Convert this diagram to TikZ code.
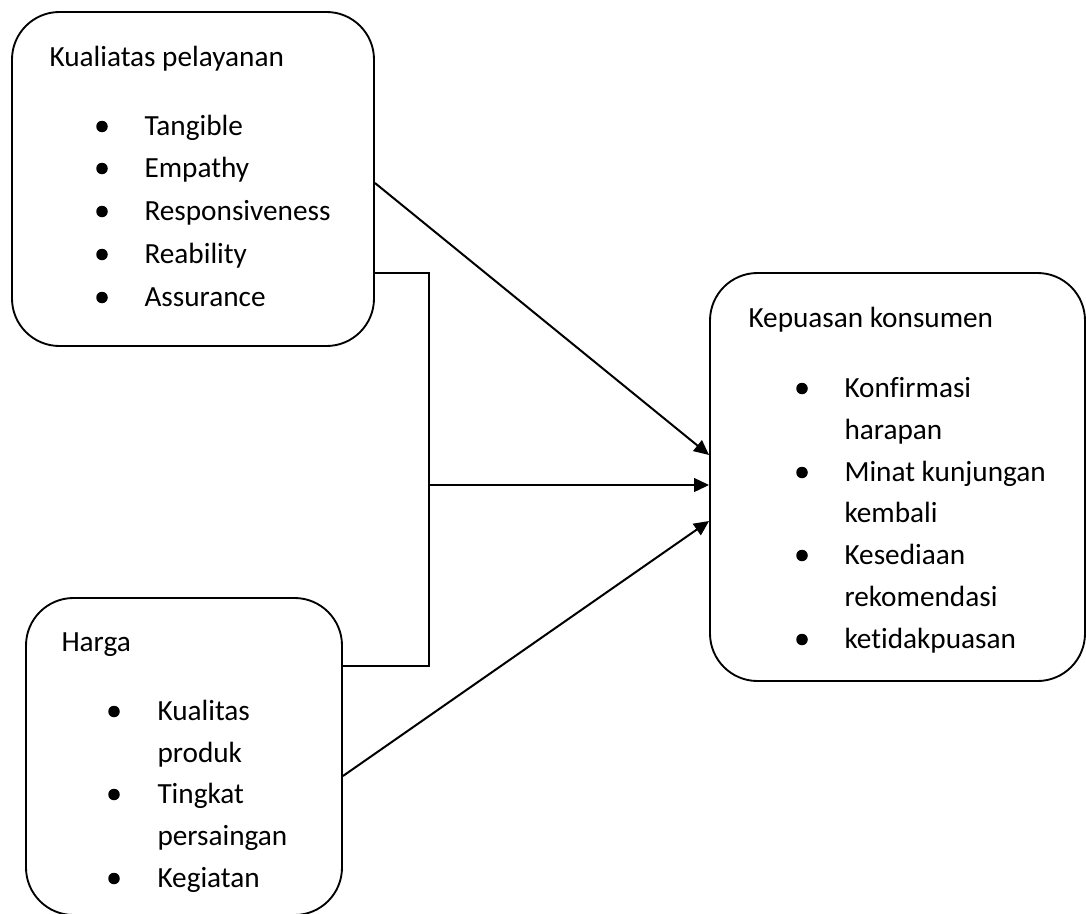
\documentclass[tikz,border=0pt]{standalone}
\usepackage{fontspec}
\setmainfont[Ligatures=NoCommon]{Carlito}
\usepackage{tikz}
\usetikzlibrary{positioning,arrows.meta,calc}

\begin{document}
\begin{tikzpicture}[
  x=0.4pt, y=-0.4pt,
  box/.style   = {draw, line width=0.75pt, rounded corners=19pt,
                  inner sep=0pt},
  title/.style = {anchor=base west, inner sep=0pt,
                  font=\fontsize{11.7}{14}\selectfont},
  item/.style  = {anchor=base west, inner sep=0pt,
                  font=\fontsize{11.7}{14}\selectfont},
  dot/.style   = {circle, fill=black, minimum size=4.6pt, inner sep=0pt},
  arr/.style   = {line width=0.8pt, -{Triangle[length=6pt,width=5.5pt]}},
  link/.style  = {line width=0.5pt}
]
\useasboundingbox (0,0) rectangle (1086,913);

\node[box, minimum width=144.8pt, minimum height=133.6pt] (kual) at (193,179) {};
\node[box, minimum width=126.4pt, minimum height=126.8pt] (harga) at (184,756.5) {};
\node[box, minimum width=150pt, minimum height=163.2pt] (puas) at (897.5,477) {};

\node[title] (tkual) at (49,66) {Kualiatas pelayanan};
\node[title] (tharga) at (61,651) {Harga};
\node[title] (tpuas) at (748,327) {Kepuasan konsumen};

\foreach \y/\txt in {135/Tangible, 177/Empathy, 220/Responsiveness,
    263/Reability, 306/Assurance}{
  \node[dot] at (102,\y-8.5) {};
  \node[item] at (144,\y) {\txt};
}

\foreach \y/\txt/\b in {720/Kualitas/1, 762/produk/0, 803/Tingkat/1,
    845/persaingan/0, 887/Kegiatan/1}{
  \ifnum\b=1 \node[dot] at (114,\y-8.5) {};\fi
  \node[item] at (157,\y) {\txt};
}

\foreach \y/\txt/\b in {397/Konfirmasi/1, 439/harapan/0,
    481/Minat kunjungan/1, 522/kembali/0, 564/Kesediaan/1,
    606/rekomendasi/0, 648/ketidakpuasan/1}{
  \ifnum\b=1 \node[dot] at (802,\y-8.5) {};\fi
  \node[item] at (844,\y) {\txt};
}

\coordinate (jn) at (429,485);

\draw[arr] ($(kual.east)+(0,4)$) -- ($(puas.west)+(0,-22)$);
\draw[link] ($(kual.east)+(0,94)$) -| (jn) |- ($(harga.east)+(0,-90.5)$);
\draw[arr] (jn) -- (jn -| puas.west);
\draw[arr] ($(harga.east)+(0,19.5)$) -- ($(puas.west)+(0,44)$);
\end{tikzpicture}
\end{document}
